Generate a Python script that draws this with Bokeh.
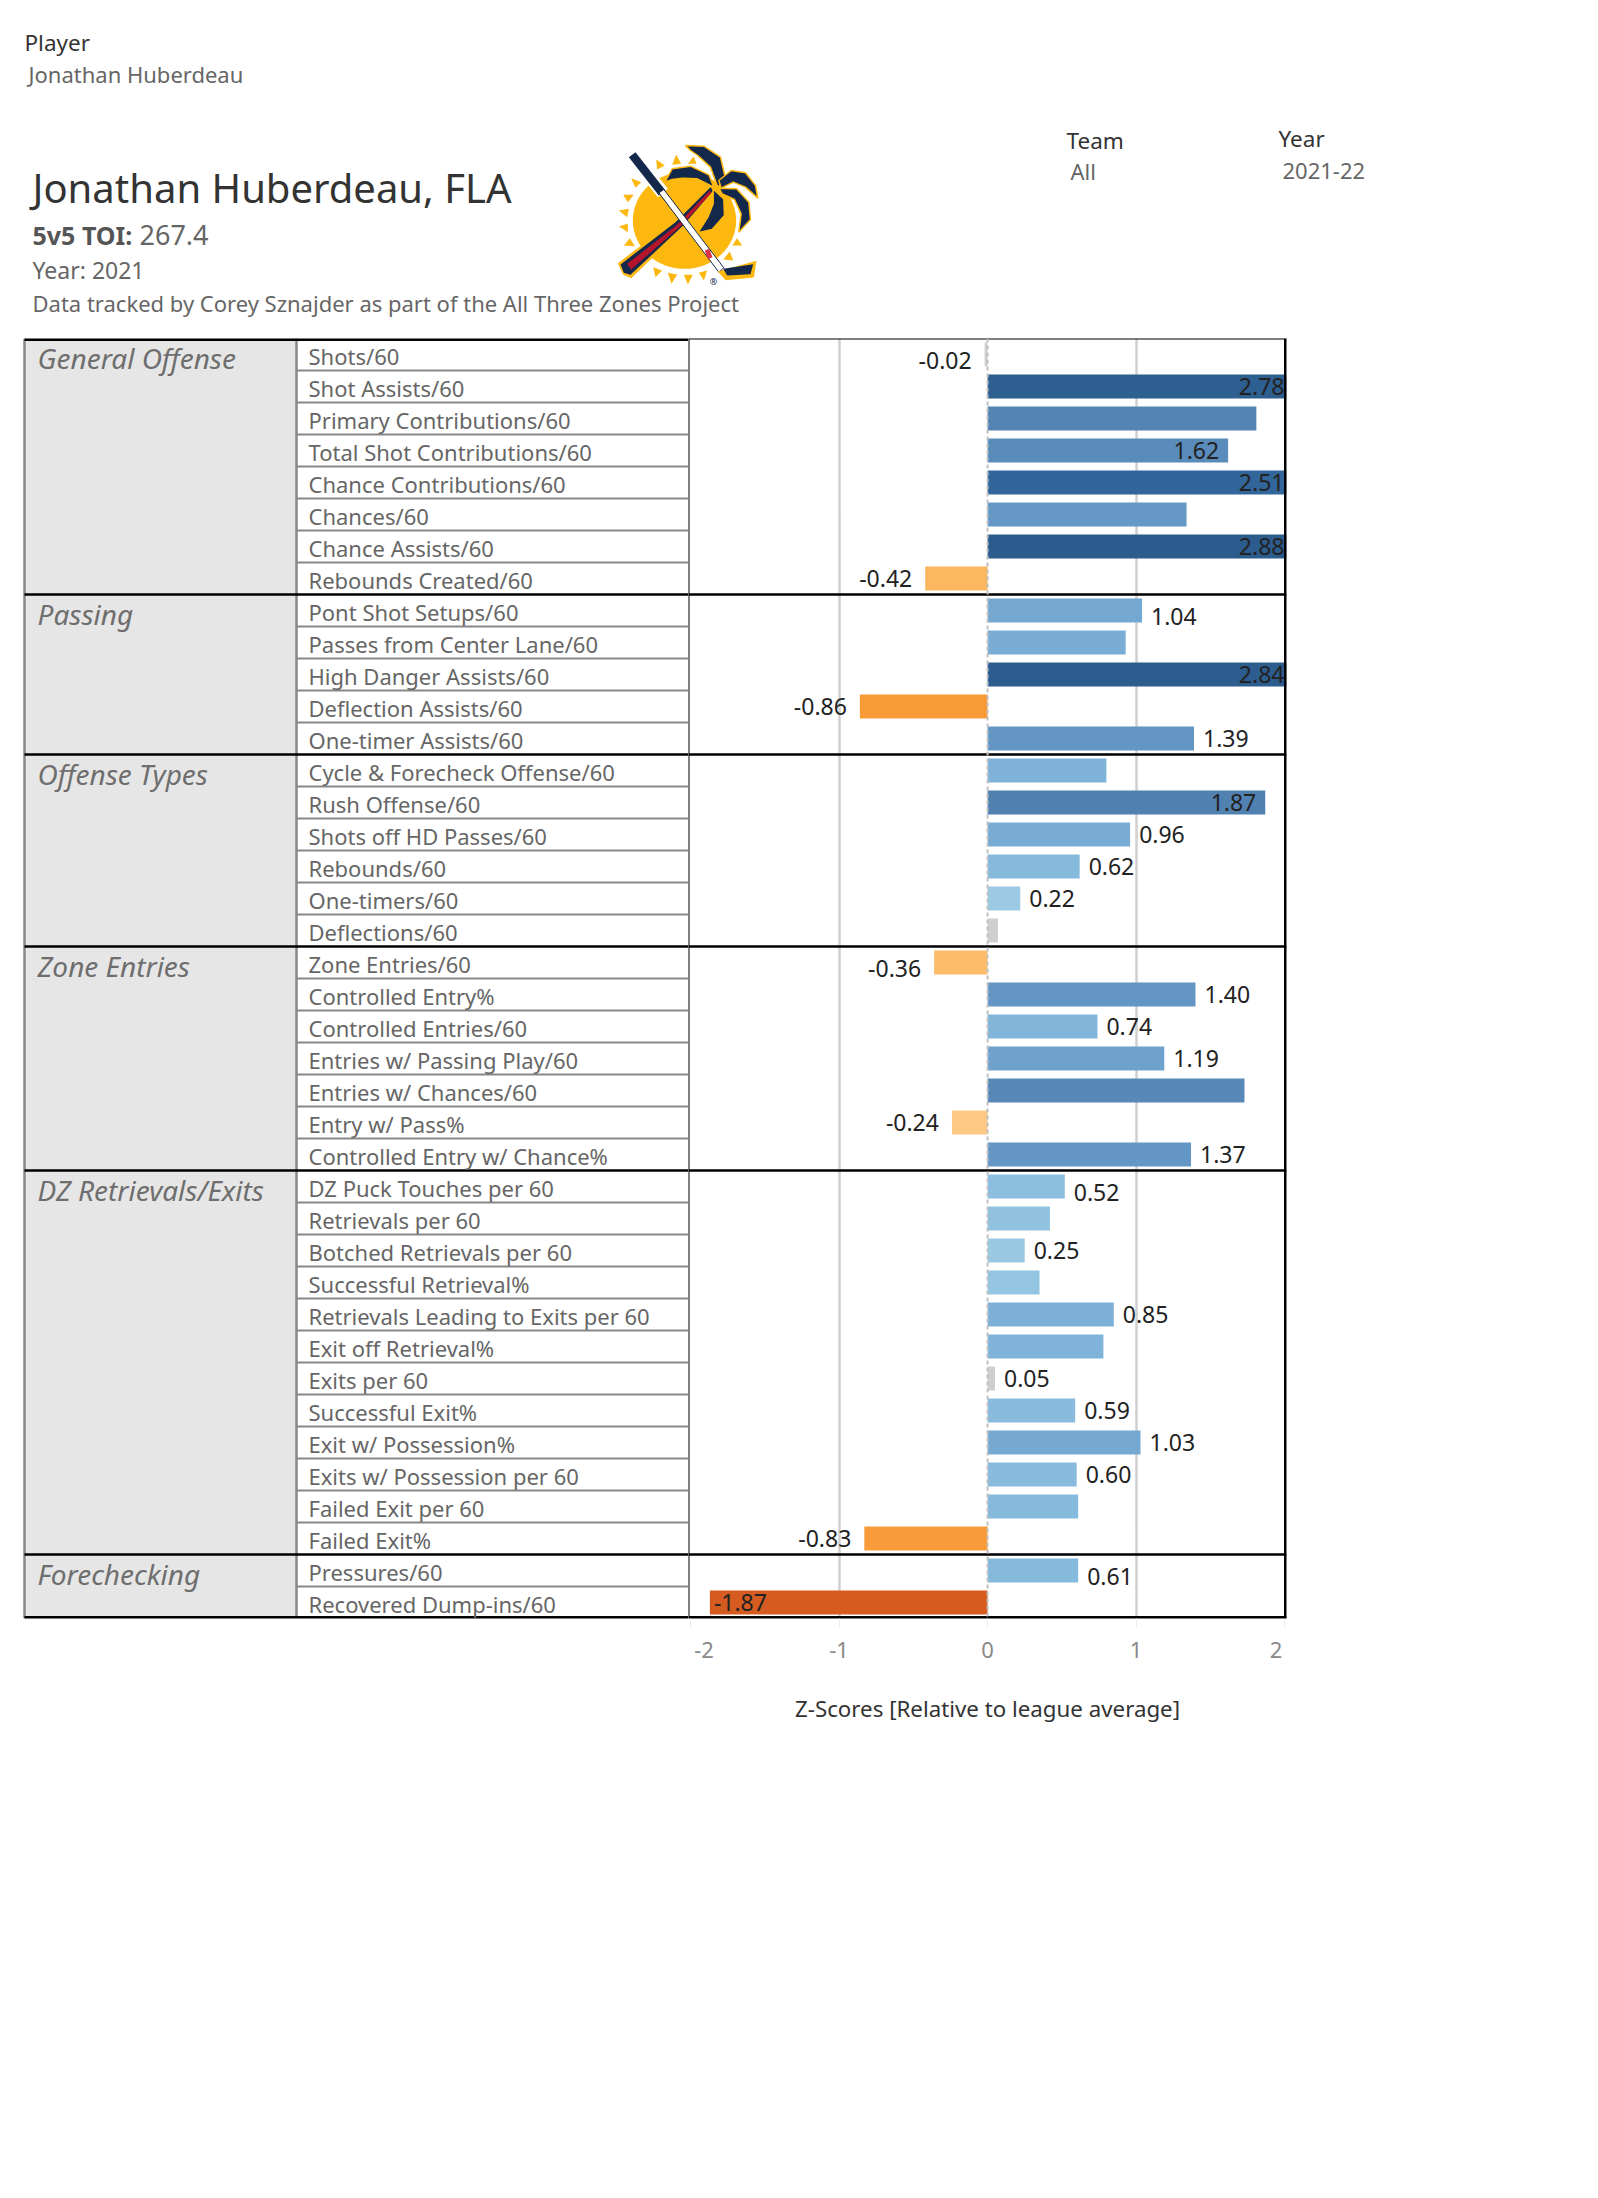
from bokeh.plotting import figure
from bokeh.layouts import column, row
from bokeh.models import Range1d, FactorRange, FixedTicker, Span, ColumnDataSource
from bokeh.core.properties import value
from bokeh.transform import linear_cmap
from bokeh.embed import file_html
from bokeh.resources import INLINE
import numpy as np

sections = ["General Offense", "Passing", "Offense Types", "Zone Entries", "DZ Retrievals/Exits", "Forechecking"]
section_sizes = [8, 5, 6, 7, 12, 2]
metrics = ["Shots/60", "Shot Assists/60", "Primary Contributions/60", "Total Shot Contributions/60",
           "Chance Contributions/60", "Chances/60", "Chance Assists/60", "Rebounds Created/60",
           "Pont Shot Setups/60", "Passes from Center Lane/60", "High Danger Assists/60", "Deflection Assists/60",
           "One-timer Assists/60",
           "Cycle & Forecheck Offense/60", "Rush Offense/60", "Shots off HD Passes/60", "Rebounds/60",
           "One-timers/60", "Deflections/60",
           "Zone Entries/60", "Controlled Entry%", "Controlled Entries/60", "Entries w/ Passing Play/60",
           "Entries w/ Chances/60", "Entry w/ Pass%", "Controlled Entry w/ Chance%",
           "DZ Puck Touches per 60", "Retrievals per 60", "Botched Retrievals per 60", "Successful Retrieval%",
           "Retrievals Leading to Exits per 60", "Exit off Retrieval%", "Exits per 60", "Successful Exit%",
           "Exit w/ Possession%", "Exits w/ Possession per 60", "Failed Exit per 60", "Failed Exit%",
           "Pressures/60", "Recovered Dump-ins/60"]
zscores = [-0.02, 2.78, 1.81, 1.62, 2.51, 1.34, 2.88, -0.42,
           1.04, 0.93, 2.84, -0.86, 1.39,
           0.80, 1.87, 0.96, 0.62, 0.22, 0.07,
           -0.36, 1.40, 0.74, 1.19, 1.73, -0.24, 1.37,
           0.52, 0.42, 0.25, 0.35, 0.85, 0.78, 0.05, 0.59, 1.03, 0.60, 0.61, -0.83,
           0.61, -1.87]
shown_labels = ["-0.02", "2.78", None, "1.62", "2.51", None, "2.88", "-0.42",
                "1.04", None, "2.84", "-0.86", "1.39",
                None, "1.87", "0.96", "0.62", "0.22", None,
                "-0.36", "1.40", "0.74", "1.19", None, "-0.24", "1.37",
                "0.52", None, "0.25", None, "0.85", None, "0.05", "0.59", "1.03", "0.60", None, "-0.83",
                "0.61", "-1.87"]
axis_ticks = [-2, -1, 0, 1, 2]
axis_title = "Z-Scores [Relative to league average]"

FONT = "Noto Sans"
XMIN, XMAX = -2.014, 2.013

# colour ramp, orange through grey to blue
anchors_v = [-3.0, -1.87, -0.86, -0.42, -0.12, -0.08, 0.08, 0.12, 0.22, 0.62, 1.04, 1.39, 1.87, 2.51, 3.0]
anchors_c = ["#c44f1a", "#d65c21", "#f99a38", "#fdb75d", "#fdd5a0", "#cfcfcf", "#cfcfcf", "#a8d0e6", "#9ccbe3",
             "#87bbde", "#76a9d2", "#6497c5", "#5282b2", "#33669a", "#2a5a8a"]
def _rgb(h):
    return [int(h[i:i + 2], 16) for i in (1, 3, 5)]
_grid = np.linspace(-3, 3, 256)
_chan = [np.interp(_grid, anchors_v, [_rgb(c)[k] for c in anchors_c]) for k in range(3)]
palette = ["#%02x%02x%02x" % (int(r), int(g), int(b)) for r, g, b in zip(*_chan)]

rows_rev = list(reversed(metrics))
shared_y = FactorRange(factors=rows_rev)
n = len(metrics)

# section boundaries, expressed as counts of rows from the bottom
ends = np.cumsum(section_sizes)
starts = ends - np.array(section_sizes)
sec_top = [n - int(s) for s in starts]
first_metric = [metrics[int(s)] for s in starts]

# ---------- header ----------
head = figure(width=1582, height=330, x_range=Range1d(8, 1590), y_range=Range1d(338, 8),
              output_backend="svg", toolbar_location=None, min_border=0, outline_line_color=None)
head.axis.visible = False
head.grid.visible = False

def put(x, y, txt, size, color, **kw):
    head.text([x], [y], text=[txt], text_font=value(FONT), text_font_size=f"{size}px", text_color=color,
              text_baseline="middle", **kw)

put(24, 41.5, "Player", 22.5, "#333333")
put(28, 73, "Jonathan Huberdeau", 22, "#666666")
put(32, 186.5, "Jonathan Huberdeau, FLA", 40, "#333333")
put(32, 234, "5v5 TOI:", 25, "#555555", text_font_style="bold")
put(139, 234, "267.4", 27, "#666666")
put(32, 269, "Year: 2021", 23, "#666666")
put(32, 302.5, "Data tracked by Corey Sznajder as part of the All Three Zones Project", 22, "#666666")
put(1066, 139.5, "Team", 22.5, "#333333")
put(1070, 170.5, "All", 22, "#666666")
put(1278, 137.5, "Year", 22.5, "#333333")
put(1282, 170, "2021-22", 22, "#666666")

# logo, sketched in a 480-unit box
LX, LY, LS = 610, 135, 1 / 3
def lg(pts):
    return [LX + p[0] * LS for p in pts], [LY + p[1] * LS for p in pts]
YEL, NAVY, RED = "#fdb80f", "#14284b", "#b5152b"
head.ellipse([LX + 222 * LS], [LY + 255 * LS], width=[310 * LS], height=[290 * LS], fill_color=YEL, line_color=None)
rays = [[(137, 72), (163, 90), (140, 102)], [(197, 57), (212, 85), (185, 88)], [(250, 62), (258, 85), (232, 85)],
        [(62, 128), (92, 140), (75, 157)], [(38, 178), (70, 178), (52, 200)], [(25, 225), (55, 220), (50, 245)],
        [(25, 272), (52, 265), (52, 290)], [(40, 330), (58, 308), (73, 332)], [(128, 395), (155, 405), (135, 425)],
        [(172, 412), (200, 417), (183, 445)], [(220, 418), (247, 418), (232, 447)], [(265, 412), (290, 405), (280, 435)],
        [(338, 372), (358, 348), (368, 375)], [(365, 330), (380, 308), (395, 330)]]
for r in rays:
    xs, ys = lg(r)
    head.patch(xs, ys, fill_color=YEL, line_color=None)
def poly(pts, fill, line=None, lw=1):
    xs, ys = lg(pts)
    head.patch(xs, ys, fill_color=fill, line_color=line, line_width=lw)
poly([(22, 383), (195, 252), (300, 150), (314, 165), (222, 275), (62, 428), (38, 418)], YEL)
poly([(30, 387), (195, 260), (300, 155), (308, 165), (218, 270), (60, 418), (40, 412)], NAVY)
poly([(50, 385), (200, 268), (298, 165), (303, 172), (215, 268), (62, 402)], RED)
poly([(48, 65), (78, 42), (172, 160), (142, 185)], "#ffffff")
poly([(55, 65), (75, 50), (165, 165), (145, 180)], NAVY)
poly([(145, 172), (160, 162), (340, 397), (325, 410)], "#ffffff", NAVY, 1)
poly([(283, 345), (296, 340), (306, 365), (292, 372)], "#d8344a")
poly([(322, 408), (438, 376), (430, 426), (345, 434)], YEL)
poly([(338, 400), (428, 386), (420, 416), (350, 420)], NAVY)
fronds = [[(225, 30), (280, 32), (330, 65), (345, 130), (322, 155), (300, 95), (262, 60), (240, 45)],
          [(163, 140), (185, 100), (240, 92), (295, 118), (310, 155), (260, 130), (215, 128), (185, 132)],
          [(325, 135), (362, 105), (405, 112), (435, 150), (442, 188), (405, 155), (368, 140), (332, 158)],
          [(325, 158), (378, 160), (415, 200), (420, 252), (385, 290), (392, 235), (372, 192), (335, 175)],
          [(308, 160), (340, 190), (342, 240), (305, 282), (262, 292), (292, 245), (308, 205)]]
for f in fronds:
    poly(f, NAVY, YEL, 1.5)
put(713, 281, "®", 9, "#14284b", text_align="center")

# ---------- table column ----------
tbl = figure(width=680, height=1400, x_range=Range1d(8, 688), y_range=shared_y,
             output_backend="svg", toolbar_location=None, min_border=0, min_border_bottom=120,
             outline_line_color=None)
tbl.axis.visible = False
tbl.grid.visible = False
tbl.quad(left=24, right=296, top=n, bottom=0, fill_color="#e6e6e6", line_color=None)
row_lines = [v for v in range(1, n) if v not in sec_top]
tbl.segment(x0=296, x1=688, y0=row_lines, y1=row_lines, line_color="#888888", line_width=2)
tbl.segment(x0=[24, 296], x1=[24, 296], y0=[0, 0], y1=[n, n], line_color="#888888", line_width=2.5)
tbl.segment(x0=24, x1=688, y0=sec_top[1:], y1=sec_top[1:], line_color="#000000", line_width=2.5)
tbl.segment(x0=24, x1=688, y0=[n], y1=[n], line_color="#000000", line_width=5)
tbl.segment(x0=24, x1=688, y0=[0], y1=[0], line_color="#000000", line_width=5)
tbl.text(x=[308] * n, y=metrics, text=metrics, text_font=value(FONT), text_font_size="22px",
         text_color="#666666", text_baseline="middle", y_offset=1)
tbl.text(x=[37] * len(sections), y=first_metric, text=sections, text_font=value(FONT), text_font_size="28px",
         text_font_style="italic", text_color="#6e6e6e", text_baseline="middle", y_offset=3)

# ---------- bars ----------
p = figure(width=902, height=1400, x_range=Range1d(XMIN, XMAX), y_range=shared_y,
           output_backend="svg", toolbar_location=None, min_border=0, min_border_right=304,
           min_border_bottom=120, outline_line_color=None)
p.yaxis.visible = False
p.ygrid.visible = False
p.xgrid.ticker = FixedTicker(ticks=[-1, 1])
p.xgrid.grid_line_color = "#d0d0d0"
p.xgrid.grid_line_width = 2.5

# the end labels sit inside the frame edges, padded with no-break spaces
p.xaxis.ticker = FixedTicker(ticks=axis_ticks)
p.xaxis.major_label_overrides = {-2: "\u00a0-2", -1: "-1", 2: "2\u00a0\u00a0\u00a0"}
p.xaxis.axis_line_color = None
p.xaxis.major_tick_line_color = "#eeeeee"
p.xaxis.major_tick_out = 10
p.xaxis.major_tick_in = 0
p.xaxis.major_label_standoff = 5
p.xaxis.major_label_text_font = FONT
p.xaxis.major_label_text_font_size = "22px"
p.xaxis.major_label_text_color = "#888888"
p.xaxis.axis_label = axis_title
p.xaxis.axis_label_text_font = FONT
p.xaxis.axis_label_text_font_size = "22.3px"
p.xaxis.axis_label_text_font_style = "normal"
p.xaxis.axis_label_text_color = "#333333"
p.xaxis.axis_label_standoff = 26

src = ColumnDataSource(dict(metric=metrics, z=zscores))
p.hbar(y="metric", left=0, right="z", height=0.75, source=src,
       fill_color=linear_cmap("z", palette, -3, 3), line_color=None)
p.add_layout(Span(location=0, dimension="height", line_color="#c0c0c0", line_width=2, line_dash="4 3"))

# frame lines
p.segment(x0=XMIN, x1=XMAX, y0=sec_top[1:], y1=sec_top[1:], line_color="#000000", line_width=2.5)
p.segment(x0=XMIN, x1=XMAX, y0=[n], y1=[n], line_color="#000000", line_width=2)
p.segment(x0=XMIN, x1=XMAX, y0=[0], y1=[0], line_color="#000000", line_width=5)
p.segment(x0=[XMIN], x1=[XMIN], y0=[0], y1=[n], line_color="#000000", line_width=2)
p.segment(x0=[XMAX], x1=[XMAX], y0=[0], y1=[n], line_color="#000000", line_width=5)

# value labels: past the bar end, or inside long bars
lab_x, lab_y, lab_t, lab_al, lab_xo, lab_yo = [], [], [], [], [], []
raised = {"-0.02", "1.04", "0.52", "0.61", "-0.36"}
for m, z, t in zip(metrics, zscores, shown_labels):
    if t is None:
        continue
    lab_y.append(m)
    lab_t.append(t)
    lab_x.append(min(max(z, XMIN), XMAX))
    if z > XMAX:
        lab_al.append("right"); lab_xo.append(-2)
    elif z >= 1.6:
        lab_al.append("right"); lab_xo.append(-9)
    elif z < -1.5:
        lab_al.append("left"); lab_xo.append(4)
    elif z < 0:
        lab_al.append("right"); lab_xo.append(-13)
    else:
        lab_al.append("left"); lab_xo.append(9)
    lab_yo.append(6 if t in raised else 0)
lab_src = ColumnDataSource(dict(x=lab_x, y=lab_y, t=lab_t, al=lab_al, xo=lab_xo, yo=lab_yo))
p.text(x="x", y="y", text="t", source=lab_src, text_align="al", x_offset="xo", y_offset="yo",
       text_font=value(FONT), text_font_size="23px", text_color="#222222", text_baseline="middle")

page = column(head, row(tbl, p, spacing=0), spacing=0, margin=(8, 0, 0, 8))
open("out.html", "w").write(file_html(page, INLINE))
